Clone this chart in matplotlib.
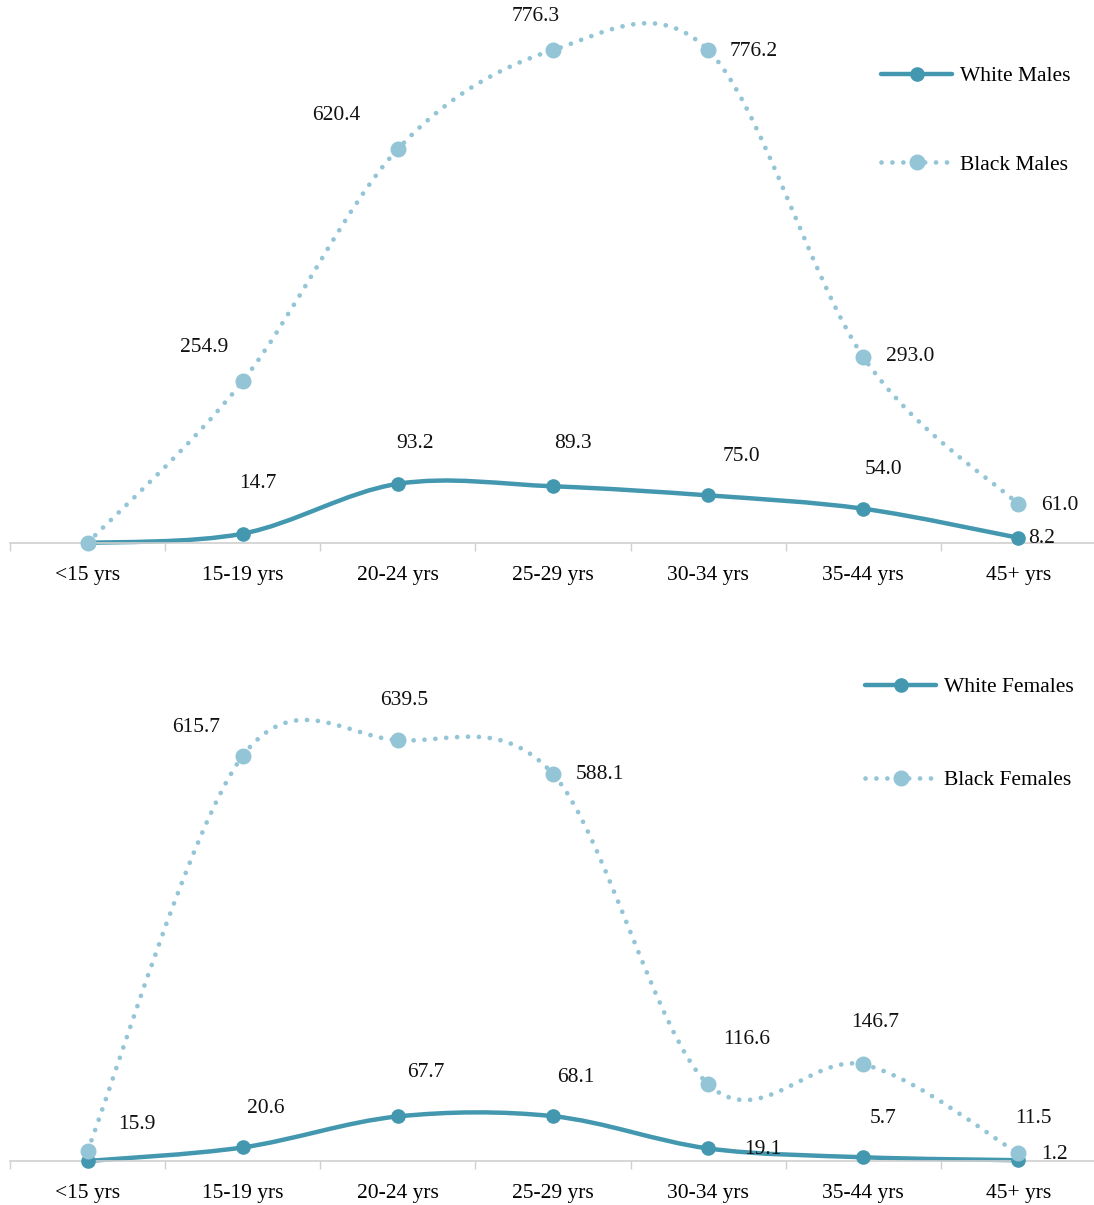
import numpy as np
import matplotlib
matplotlib.use("Agg")
import matplotlib.pyplot as plt
from matplotlib.path import Path
from matplotlib.patches import PathPatch
from matplotlib.lines import Line2D

plt.rcParams['font.family'] = ['Liberation Serif', 'DejaVu Serif']

# data
age_groups = ['<15 yrs', '15-19 yrs', '20-24 yrs', '25-29 yrs', '30-34 yrs', '35-44 yrs', '45+ yrs']
white_males = [0.0, 14.7, 93.2, 89.3, 75.0, 54.0, 8.2]
black_males = [0.0, 254.9, 620.4, 776.3, 776.2, 293.0, 61.0]
white_females = [0.0, 20.6, 67.7, 68.1, 19.1, 5.7, 1.2]
black_females = [15.9, 615.7, 639.5, 588.1, 116.6, 146.7, 11.5]

# which points get a label (the <15 zero values have none in the original)
white_males_lbl = [False, True, True, True, True, True, True]
black_males_lbl = [False, True, True, True, True, True, True]
white_females_lbl = [False, True, True, True, True, True, True]
black_females_lbl = [True, True, True, True, True, True, True]

# label offsets in pixels (dx, dy)
wm_off = [(0, 0), (15, 50), (17, 40), (20, 43), (33, 39), (20, 39), (23, -1)]
bm_off = [(0, 0), (-39, 34), (-62, 34), (-17, 34), (46, -1), (47, 0), (41, -1)]
wf_off = [(0, 0), (23, 39), (28, 44), (23, 39), (55, -1), (20, 39), (36, 6)]
bf_off = [(49, 26), (-47, 28), (6, 40), (47, 0), (39, 45), (12, 42), (15, 35)]

DARK = '#4398AF'
LIGHT = '#93C5D6'
DOTS = (0, (0.01, 2.3))
FS = 15.5


def smooth_path(y):
    # Excel-style smoothed line: Catmull-Rom segments as cubic Beziers
    x = np.arange(len(y), dtype=float)
    y = np.asarray(y, dtype=float)
    pts = np.column_stack([x, y])
    ext = np.vstack([pts[0], pts, pts[-1]])
    verts = [pts[0]]
    codes = [Path.MOVETO]
    for i in range(len(pts) - 1):
        p0, p1, p2, p3 = ext[i], ext[i + 1], ext[i + 2], ext[i + 3]
        c1 = p1 + (p2 - p0) / 6.0
        c2 = p2 - (p3 - p1) / 6.0
        verts += [c1, c2, p2]
        codes += [Path.CURVE4] * 3
    return Path(verts, codes)


def draw_panel(ax, white, black, wl, bl, woff, boff, wname, bname, ymax, leg_xy, leg_space):
    n = len(age_groups)
    x = np.arange(n)
    ax.add_patch(PathPatch(smooth_path(white), fill=False, edgecolor=DARK, lw=3.2,
                           capstyle='round', joinstyle='round', zorder=2, clip_on=False))
    ax.plot(x, white, 'o', color=DARK, ms=9.5, zorder=3, clip_on=False)
    ax.add_patch(PathPatch(smooth_path(black), fill=False, edgecolor=LIGHT, lw=3.4,
                           linestyle=DOTS, capstyle='round', zorder=4, clip_on=False))
    ax.plot(x, black, 'o', color=LIGHT, ms=10.5, zorder=5, clip_on=False)

    for i in range(n):
        if wl[i]:
            ax.annotate(f'{white[i]:.1f}', (x[i], white[i]), xytext=woff[i],
                        textcoords='offset pixels', ha='center', va='center',
                        fontsize=FS, color='#111111', zorder=6)
        if bl[i]:
            ax.annotate(f'{black[i]:.1f}', (x[i], black[i]), xytext=boff[i],
                        textcoords='offset pixels', ha='center', va='center',
                        fontsize=FS, color='#111111', zorder=6)

    ax.set_xlim(-0.5, n - 0.5)
    ax.set_ylim(0, ymax)
    ax.set_xticks(x)
    ax.set_xticklabels(age_groups, fontsize=FS)
    ax.set_xticks(np.arange(n + 1) - 0.5, minor=True)
    ax.tick_params(axis='x', which='major', length=0, pad=16.5)
    ax.tick_params(axis='x', which='minor', length=6, width=1, color='#D0D0D0')
    ax.set_yticks([])
    for s in ['top', 'right', 'left']:
        ax.spines[s].set_visible(False)
    ax.spines['bottom'].set_color('#D0D0D0')
    ax.spines['bottom'].set_linewidth(1.2)

    h1 = Line2D([], [], color=DARK, lw=3.2, marker='o', ms=9.5, solid_capstyle='round')
    h2 = Line2D([], [], color=LIGHT, lw=3.4, ls=DOTS, dash_capstyle='round', marker='o', ms=10.5)
    ax.legend([h1, h2], [wname, bname], loc='upper left', bbox_to_anchor=leg_xy,
              bbox_transform=fig.transFigure, frameon=False, fontsize=FS,
              handlelength=3.3, handletextpad=0.35, labelspacing=leg_space,
              borderpad=0, borderaxespad=0)


fig = plt.figure(figsize=(10.94, 12.05), dpi=100)
W, H = 1094.0, 1205.0

ax1 = fig.add_axes([10 / W, (H - 543) / H, 1086 / W, 543 / H])
ax2 = fig.add_axes([10 / W, (H - 1161) / H, 1086 / W, 541 / H])

draw_panel(ax1, white_males, black_males, white_males_lbl, black_males_lbl,
           wm_off, bm_off, 'White Males', 'Black Males', 543 / 0.635,
           (881 / W, 1 - 66 / H), 3.2)
draw_panel(ax2, white_females, black_females, white_females_lbl, black_females_lbl,
           wf_off, bf_off, 'White Females', 'Black Females', 541 / 0.658,
           (865 / W, 1 - 677 / H), 3.4)

fig.savefig('out.png', dpi=100)
